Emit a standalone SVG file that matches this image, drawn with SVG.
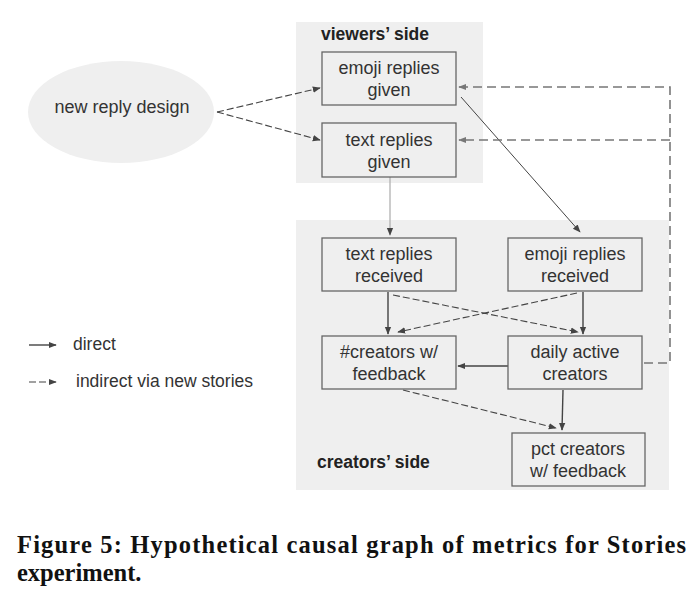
<svg xmlns="http://www.w3.org/2000/svg" width="700" height="596" viewBox="0 0 700 596">
<style>
.panel{fill:#efefef}
.box{fill:#efefef;stroke:#666;stroke-width:1.3}
.t{font-family:"Liberation Sans",Arial,sans-serif;font-size:18px;fill:#333;text-anchor:middle}
.lg{font-family:"Liberation Sans",Arial,sans-serif;font-size:17.5px;fill:#333}
.h{font-family:"Liberation Sans",Arial,sans-serif;font-size:17.5px;font-weight:bold;fill:#222}
.cap{font-family:"Liberation Serif","Times New Roman",serif;font-size:24.5px;font-weight:bold;fill:#111}
.solid{stroke:#444;stroke-width:1.4;fill:none}
.thin{stroke:#444;stroke-width:1;fill:none}
.light{stroke:#aaa;stroke-width:1.2;fill:none}
.dash{stroke:#444;stroke-width:1.1;fill:none;stroke-dasharray:7,3}
.fb{stroke:#777;stroke-width:1.6;fill:none;stroke-dasharray:9,5}
</style>
<defs>
<marker id="ah" viewBox="0 0 10 10" refX="9" refY="5" markerWidth="8" markerHeight="8" markerUnits="userSpaceOnUse" orient="auto">
<path d="M0,1 L10,5 L0,9 Z" fill="#444"/>
</marker>
<marker id="ahg" viewBox="0 0 10 10" refX="9" refY="5" markerWidth="8" markerHeight="8" markerUnits="userSpaceOnUse" orient="auto">
<path d="M0,1 L10,5 L0,9 Z" fill="#777"/>
</marker>
</defs>
<rect width="700" height="596" fill="#fff"/>
<g id="viewers-panel">
<rect class="panel" x="296" y="22" width="187" height="161"/>
<text class="h" x="321" y="40">viewers’ side</text>
</g>
<g id="creators-panel">
<rect class="panel" x="296" y="220" width="373" height="270"/>
<text class="h" x="317" y="468">creators’ side</text>
</g>
<g id="connectors">
<line class="dash" x1="217" y1="112" x2="320" y2="88" marker-end="url(#ah)"/>
<line class="dash" x1="217" y1="112" x2="320" y2="140" marker-end="url(#ah)"/>
<line class="thin" x1="461" y1="97" x2="580" y2="232" marker-end="url(#ah)"/>
<line class="light" x1="390" y1="177" x2="390" y2="235" marker-end="url(#ah)"/>
<line class="solid" x1="388" y1="292" x2="388" y2="334" marker-end="url(#ah)"/>
<line class="dash" x1="393" y1="295" x2="578" y2="332" marker-end="url(#ah)"/>
<line class="dash" x1="577" y1="293" x2="398" y2="332" marker-end="url(#ah)"/>
<line class="solid" x1="583" y1="292" x2="583" y2="334" marker-end="url(#ah)"/>
<line class="solid" x1="508" y1="366" x2="458" y2="366" marker-end="url(#ah)"/>
<line class="dash" x1="403" y1="390" x2="556" y2="428" marker-end="url(#ah)"/>
<line class="solid" x1="563" y1="390" x2="562" y2="430" marker-end="url(#ah)"/>
<polyline class="fb" points="644,363 670,363 670,87 459,87" marker-end="url(#ahg)"/>
<line class="fb" x1="670" y1="140" x2="459" y2="140" marker-end="url(#ahg)"/>
</g>
<g id="new-reply-design">
<ellipse cx="121" cy="112" rx="93" ry="51" fill="#efefef"/>
<text class="t" x="122" y="113">new reply design</text>
</g>
<g id="emoji-replies-given">
<rect class="box" x="322" y="52" width="134" height="53"/>
<text class="t" x="389" y="74">emoji replies</text>
<text class="t" x="389" y="96">given</text>
</g>
<g id="text-replies-given">
<rect class="box" x="322" y="123" width="134" height="54"/>
<text class="t" x="389" y="146">text replies</text>
<text class="t" x="389" y="168">given</text>
</g>
<g id="text-replies-received">
<rect class="box" x="322" y="238" width="134" height="53"/>
<text class="t" x="389" y="260">text replies</text>
<text class="t" x="389" y="282">received</text>
</g>
<g id="emoji-replies-received">
<rect class="box" x="508" y="238" width="134" height="53"/>
<text class="t" x="575" y="260">emoji replies</text>
<text class="t" x="575" y="282">received</text>
</g>
<g id="creators-with-feedback">
<rect class="box" x="322" y="336" width="134" height="53"/>
<text class="t" x="389" y="358">#creators w/</text>
<text class="t" x="389" y="380">feedback</text>
</g>
<g id="daily-active-creators">
<rect class="box" x="508" y="336" width="134" height="53"/>
<text class="t" x="575" y="358">daily active</text>
<text class="t" x="575" y="380">creators</text>
</g>
<g id="pct-creators-with-feedback">
<rect class="box" x="512" y="433" width="133" height="53"/>
<text class="t" x="578" y="455">pct creators</text>
<text class="t" x="578" y="477">w/ feedback</text>
</g>
<g id="legend">
<line class="solid" x1="29" y1="345" x2="56" y2="345" marker-end="url(#ah)"/>
<text class="lg" x="73" y="350">direct</text>
<line class="dash" x1="29" y1="382" x2="56" y2="382" stroke-dasharray="4,3" marker-end="url(#ah)"/>
<text class="lg" x="76" y="387">indirect via new stories</text>
</g>
<g id="caption">
<text class="cap" x="17" y="553" textLength="669" lengthAdjust="spacing">Figure 5: Hypothetical causal graph of metrics for Stories</text>
<text class="cap" x="17" y="581">experiment.</text>
</g>
</svg>
